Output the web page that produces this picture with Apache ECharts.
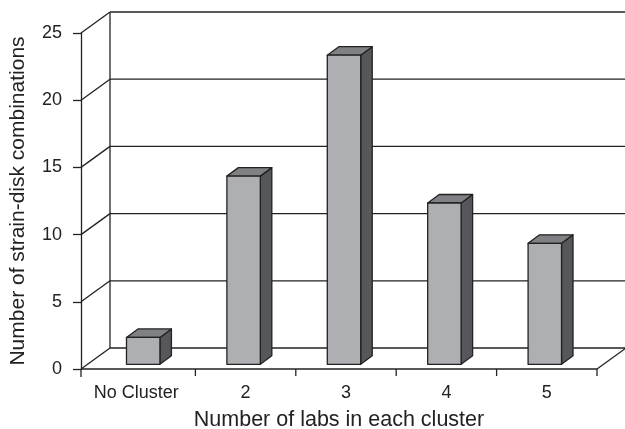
<!DOCTYPE html>
<html>
<head>
<meta charset="utf-8">
<script src="https://cdn.jsdelivr.net/npm/echarts@6/dist/echarts.min.js"></script>
<style>
  html, body { margin: 0; padding: 0; background: #fff; }
  #chart { width: 625px; height: 429px; }
</style>
</head>
<body>
<div id="chart"></div>
<script>
// Cluster sizes and how many strain-disk combinations fall in each
const categories = ['No Cluster', '2', '3', '4', '5'];
const counts = [2, 14, 23, 12, 9];
// Value levels shown on the vertical axis (and as lines on the back wall)
const levels = [0, 5, 10, 15, 20, 25];

const FONT = '"Liberation Sans", Arial, Helvetica, sans-serif';
const INK = '#222';
const AXIS_OFFSET = 14;            // vertical axis sits left of the first band
const WALL = [29, -21];            // depth of the floor / back wall
const BAR_SHIFT = [-2, -4.7];      // bar front face position inside the depth
const BAR_DEPTH = [11.5, -8.5];    // depth of each box
const TICK = 7;

const chart = echarts.init(document.getElementById('chart'), null, { renderer: 'canvas' });

function line(x1, y1, x2, y2, w) {
  return {
    type: 'line',
    shape: { x1, y1, x2, y2 },
    style: { stroke: INK, lineWidth: w || 1.3 }
  };
}

// Back wall, side wall joins, floor edges and band ticks of the pseudo-3D frame
function renderFrame(params, api) {
  const band = api.size([1, 0])[0];
  const first = api.coord([0, 0]);
  const last = api.coord([categories.length - 1, 0]);
  const left = first[0] - band / 2 - AXIS_OFFSET;
  const right = last[0] + band / 2;
  const y0 = first[1];
  const yTop = api.coord([0, levels[levels.length - 1]])[1];
  const children = [];
  levels.forEach(v => {
    const y = api.coord([0, v])[1];
    children.push(line(left + WALL[0], y + WALL[1], right + WALL[0] + 2, y + WALL[1]));
    children.push(line(left, y, left + WALL[0], y + WALL[1]));
  });
  children.push(line(left + WALL[0], yTop + WALL[1], left + WALL[0], y0 + WALL[1]));
  children.push(line(right, y0, right + WALL[0], y0 + WALL[1]));
  // front edge of the floor, from the vertical axis to the last band
  children.push(line(left, y0, right, y0));
  children.push(line(left, y0, left, y0 + TICK + 1));
  for (let k = 1; k < categories.length; k++) {
    const x = api.coord([k, 0])[0] - band / 2;
    children.push(line(x, y0, x, y0 + TICK));
  }
  children.push(line(right, y0, right, y0 + TICK));
  return { type: 'group', children };
}

// Each bar is a box: front face, top face and right side face
function renderBox(params, api) {
  const i = api.value(0);
  const v = api.value(1);
  const band = api.size([1, 0])[0];
  const base = api.coord([i, 0]);
  const top = api.coord([i, v]);
  const half = band * 0.333 / 2;
  const cx = base[0] + BAR_SHIFT[0];
  const yb = base[1] + BAR_SHIFT[1];
  const yt = top[1] + BAR_SHIFT[1];
  const dx = BAR_DEPTH[0], dy = BAR_DEPTH[1];
  const xl = cx - half, xr = cx + half;
  const stroke = { stroke: INK, lineWidth: 1.3, lineJoin: 'round' };
  return {
    type: 'group',
    children: [
      {
        type: 'polygon',
        shape: { points: [[xr, yt], [xr + dx, yt + dy], [xr + dx, yb + dy], [xr, yb]] },
        style: Object.assign({ fill: '#56575a' }, stroke)
      },
      {
        type: 'polygon',
        shape: { points: [[xl, yt], [xl + dx, yt + dy], [xr + dx, yt + dy], [xr, yt]] },
        style: Object.assign({ fill: '#808184' }, stroke)
      },
      {
        type: 'rect',
        shape: { x: xl, y: yt, width: xr - xl, height: yb - yt },
        style: Object.assign({ fill: '#aeafb2' }, stroke)
      }
    ]
  };
}

// The first band's label sits a little toward the vertical axis
const categoryItems = categories.map((name, i) =>
  i === 0 ? { value: name, textStyle: { padding: [0, 18, 0, 0] } } : name
);

chart.setOption({
  animation: false,
  backgroundColor: '#fff',
  textStyle: { fontFamily: FONT },
  grid: { left: 95, right: 28, top: 33, bottom: 60, outerBoundsMode: 'none', containLabel: false },
  xAxis: {
    type: 'category',
    data: categoryItems,
    boundaryGap: true,
    axisLine: { show: false },
    axisTick: { show: false },
    axisLabel: { interval: 0, fontSize: 18, color: INK, margin: 15, fontFamily: FONT },
    name: 'Number of labs in each cluster',
    nameLocation: 'middle',
    nameGap: 40,
    nameTextStyle: { fontSize: 21.5, color: INK, fontFamily: FONT, padding: [0, 14, 0, 0] },
    splitLine: { show: false }
  },
  yAxis: {
    type: 'value',
    min: 0,
    max: 25,
    interval: 5,
    offset: AXIS_OFFSET,
    axisLine: { show: true, lineStyle: { color: INK, width: 1.3 } },
    axisTick: { show: true, length: 8, lineStyle: { color: INK, width: 1.3 } },
    axisLabel: { fontSize: 18, color: INK, margin: 19, fontFamily: FONT },
    splitLine: { show: false },
    name: 'Number of strain-disk combinations',
    nameLocation: 'middle',
    nameGap: 52,
    nameTextStyle: { fontSize: 21, color: INK, fontFamily: FONT }
  },
  series: [
    {
      type: 'custom',
      name: 'frame',
      silent: true,
      z: 1,
      data: [[0, 0]],
      encode: { x: 0, y: 1 },
      renderItem: renderFrame
    },
    {
      type: 'custom',
      name: 'Combinations',
      z: 2,
      data: counts.map((v, i) => [i, v]),
      encode: { x: 0, y: 1 },
      renderItem: renderBox
    }
  ]
});
</script>
</body>
</html>
